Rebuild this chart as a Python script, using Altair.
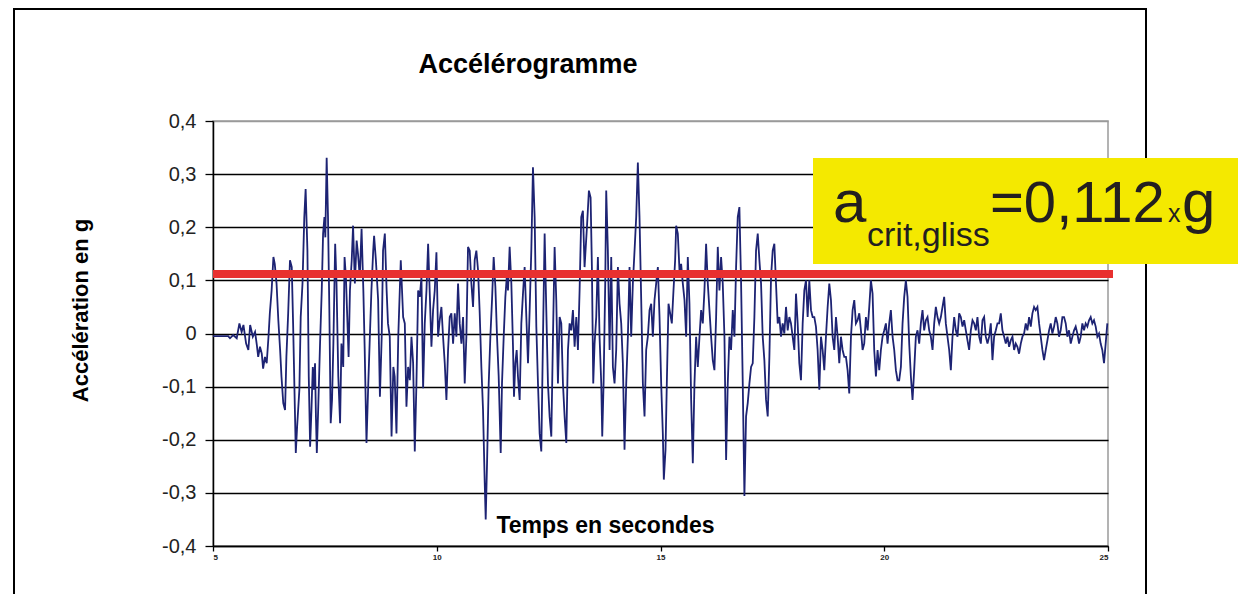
import altair as alt
import pandas as pd

# Accelerogram samples (time in s, acceleration in g), split by time window
SEG_1 = [
    (5.00, -0.005), (5.34, -0.005), (5.38, -0.009), (5.45, -0.003), (5.53, -0.009),
    (5.59, 0.019), (5.64, 0.003), (5.68, 0.016), (5.74, -0.019), (5.79, -0.031),
    (5.83, 0.016), (5.89, -0.006), (5.94, 0.003), (5.98, -0.022), (6.01, -0.044),
    (6.05, -0.025), (6.09, -0.038), (6.12, -0.066), (6.16, -0.044), (6.20, -0.056),
    (6.24, -0.006), (6.27, 0.038), (6.31, 0.081), (6.35, 0.144), (6.38, 0.131),
    (6.42, 0.094), (6.46, 0.025), (6.50, -0.031), (6.53, -0.081), (6.57, -0.131),
    (6.61, -0.144), (6.64, -0.044), (6.68, 0.038), (6.72, 0.138), (6.76, 0.125),
    (6.79, 0.019), (6.83, -0.144), (6.85, -0.225), (6.88, -0.175), (6.93, -0.106),
    (6.96, 0.031), (7.00, 0.094), (7.04, 0.219), (7.07, 0.272), (7.11, 0.156),
    (7.14, -0.081), (7.17, -0.213), (7.20, -0.144), (7.23, -0.063), (7.25, -0.106),
    (7.28, -0.056), (7.30, -0.156), (7.32, -0.225), (7.35, -0.144), (7.39, -0.025),
    (7.43, 0.081), (7.46, 0.188), (7.49, 0.219), (7.51, 0.181), (7.54, 0.331),
    (7.57, 0.219), (7.60, 0.044), (7.63, -0.169), (7.66, -0.125), (7.69, -0.019),
    (7.73, 0.169), (7.76, 0.094), (7.80, -0.081), (7.84, -0.169), (7.87, -0.019),
    (7.91, -0.063), (7.94, 0.144), (7.97, 0.106), (8.00, 0.031), (8.03, -0.044),
    (8.06, 0.081), (8.10, 0.138), (8.13, 0.203), (8.17, 0.094), (8.21, 0.175),
    (8.24, 0.150), (8.28, 0.106), (8.32, 0.197), (8.36, 0.081), (8.39, -0.031),
    (8.43, -0.206), (8.47, -0.094), (8.50, -0.019), (8.54, 0.081), (8.58, 0.156),
    (8.60, 0.184), (8.64, 0.138), (8.69, 0.063), (8.73, -0.119), (8.77, -0.006),
    (8.80, 0.156), (8.84, 0.188), (8.88, 0.081), (8.91, 0.019), (8.95, -0.006),
    (8.99, -0.194), (9.03, -0.063), (9.06, -0.081), (9.10, -0.188), (9.14, -0.006),
]

SEG_2 = [
    (9.196, 0.138), (9.249, 0.031), (9.286, 0.019), (9.323, -0.138), (9.360, -0.063),
    (9.398, -0.088), (9.435, -0.006), (9.472, -0.056), (9.509, -0.222), (9.546, -0.094),
    (9.584, 0.081), (9.621, 0.069), (9.658, 0.106), (9.695, -0.103), (9.732, 0.019),
    (9.770, 0.081), (9.807, 0.169), (9.844, 0.075), (9.881, -0.025), (9.918, 0.044),
    (9.955, 0.081), (9.993, 0.153), (10.030, -0.006), (10.067, 0.025), (10.104, 0.050),
    (10.141, -0.006), (10.179, -0.056), (10.216, -0.125), (10.253, -0.031), (10.290, 0.031),
    (10.327, 0.038), (10.365, -0.019), (10.402, 0.038), (10.439, -0.006), (10.476, 0.094),
    (10.513, 0.019), (10.551, -0.019), (10.588, 0.031), (10.625, -0.094), (10.662, -0.006),
    (10.699, 0.163), (10.737, 0.156), (10.774, 0.094), (10.811, 0.050), (10.848, 0.138),
    (10.885, 0.156), (10.923, 0.119), (10.960, 0.038), (10.997, -0.063), (11.034, -0.144),
    (11.072, -0.281), (11.094, -0.350), (11.124, -0.244), (11.161, -0.094), (11.198, -0.006),
    (11.235, 0.063), (11.272, 0.144), (11.310, 0.088), (11.347, -0.006), (11.384, -0.081),
    (11.429, -0.225), (11.458, -0.094), (11.496, -0.006), (11.533, 0.069), (11.570, 0.113),
    (11.592, 0.081), (11.629, 0.163), (11.667, 0.094), (11.704, -0.025), (11.726, -0.119),
    (11.756, -0.056), (11.786, -0.031), (11.815, -0.081), (11.853, -0.125), (11.890, 0.019),
    (11.927, 0.075), (11.964, 0.125), (12.002, 0.031), (12.039, -0.056), (12.076, 0.044),
    (12.113, 0.156), (12.150, 0.313), (12.188, 0.219), (12.225, 0.013), (12.262, -0.094),
    (12.299, -0.188), (12.336, -0.222), (12.374, -0.006), (12.411, 0.188), (12.448, 0.044),
    (12.485, -0.094), (12.522, -0.156), (12.560, -0.194), (12.597, -0.006), (12.634, 0.163),
    (12.671, 0.063), (12.708, -0.094), (12.746, 0.031), (12.783, 0.019), (12.820, -0.094),
    (12.857, -0.156), (12.895, -0.206), (12.932, -0.031), (12.969, 0.019), (13.006, 0.006),
    (13.043, 0.044), (13.081, -0.025), (13.118, 0.031), (13.155, -0.031), (13.192, 0.081),
    (13.229, 0.219), (13.266, 0.231), (13.303, 0.125),
]

SEG_3 = [
    (13.356, 0.200), (13.400, 0.269), (13.438, 0.256), (13.467, 0.125), (13.497, -0.094),
    (13.527, -0.019), (13.564, 0.031), (13.601, 0.144), (13.638, -0.006), (13.676, -0.094),
    (13.698, -0.194), (13.728, -0.094), (13.765, 0.094), (13.787, 0.269), (13.824, 0.156),
    (13.862, -0.031), (13.899, 0.144), (13.936, -0.063), (13.973, -0.094), (14.010, -0.031),
    (14.048, 0.125), (14.085, 0.056), (14.122, 0.019), (14.159, -0.056), (14.196, -0.219),
    (14.234, -0.094), (14.271, -0.006), (14.308, 0.125), (14.345, -0.006), (14.382, 0.094),
    (14.420, 0.156), (14.457, 0.219), (14.494, 0.322), (14.531, 0.219), (14.569, 0.063),
    (14.606, -0.094), (14.643, -0.156), (14.680, -0.031), (14.717, -0.006), (14.755, 0.044),
    (14.792, 0.056), (14.829, -0.006), (14.866, 0.063), (14.903, 0.094), (14.941, 0.125),
    (14.978, 0.031), (15.015, -0.094), (15.052, -0.188), (15.074, -0.275), (15.112, -0.219),
    (15.141, -0.094), (15.179, 0.056), (15.216, 0.038), (15.253, 0.019), (15.290, 0.081),
    (15.327, 0.138), (15.350, 0.203), (15.387, 0.188), (15.424, 0.119), (15.461, 0.131),
    (15.499, 0.094), (15.536, 0.063), (15.573, -0.006), (15.610, 0.144), (15.647, 0.056),
    (15.685, -0.125), (15.722, -0.244), (15.759, -0.094), (15.796, -0.006), (15.833, -0.063),
    (15.871, -0.006), (15.908, 0.044), (15.945, 0.019), (15.982, 0.081), (16.019, 0.169),
    (16.057, 0.094), (16.094, 0.044), (16.131, -0.006), (16.168, -0.050), (16.205, -0.069),
    (16.243, 0.031), (16.280, 0.163), (16.317, 0.081), (16.354, 0.144), (16.391, 0.094),
    (16.429, -0.006), (16.466, -0.238), (16.503, -0.094), (16.540, -0.006), (16.577, -0.031),
    (16.615, 0.044), (16.652, -0.006), (16.689, 0.125), (16.726, 0.219), (16.763, 0.238),
    (16.801, 0.094), (16.838, -0.094), (16.875, -0.306), (16.912, -0.156), (16.949, -0.131),
    (16.987, -0.094), (17.024, -0.063), (17.061, -0.056), (17.098, 0.031), (17.135, 0.156),
    (17.173, 0.188), (17.210, 0.138), (17.247, 0.094), (17.284, -0.006), (17.321, -0.050),
    (17.359, -0.125), (17.396, -0.156),
]

SEG_4 = [
    (17.433, -0.044), (17.470, 0.106), (17.507, 0.156), (17.544, 0.169), (17.581, 0.094),
    (17.619, 0.019), (17.656, 0.031), (17.693, -0.006), (17.730, 0.019), (17.767, 0.000),
    (17.805, 0.050), (17.842, 0.006), (17.879, 0.031), (17.916, 0.019), (17.953, -0.006),
    (17.991, -0.031), (18.028, 0.075), (18.065, 0.019), (18.102, -0.056), (18.139, -0.088),
    (18.177, 0.019), (18.214, 0.081), (18.251, 0.100), (18.288, 0.031), (18.325, 0.100),
    (18.363, 0.044), (18.400, 0.031), (18.437, 0.031), (18.474, 0.013), (18.511, -0.031),
    (18.549, -0.106), (18.586, -0.006), (18.623, -0.031), (18.660, -0.069), (18.697, -0.006),
    (18.735, 0.050), (18.772, 0.094), (18.809, 0.063), (18.846, -0.006), (18.883, -0.031),
    (18.921, 0.031), (18.958, -0.006), (18.995, -0.056), (19.032, -0.006), (19.069, -0.031),
    (19.107, -0.044), (19.144, -0.044), (19.181, -0.069), (19.218, -0.113), (19.256, -0.006),
    (19.293, 0.044), (19.330, 0.063), (19.367, 0.019), (19.404, 0.025), (19.442, 0.038),
    (19.479, 0.006), (19.516, -0.031), (19.553, -0.019), (19.590, 0.031), (19.628, 0.006),
    (19.665, 0.050), (19.702, 0.100), (19.739, 0.075), (19.776, -0.031), (19.814, -0.081),
    (19.851, -0.031), (19.888, -0.069), (19.925, -0.031), (19.962, -0.006), (20.000, 0.006),
    (20.037, 0.019), (20.074, -0.019), (20.111, 0.019), (20.148, 0.044), (20.186, -0.006),
    (20.223, -0.031), (20.260, -0.069), (20.297, -0.088), (20.334, -0.088), (20.372, -0.063),
    (20.409, 0.019), (20.446, 0.069), (20.483, 0.100), (20.520, 0.069), (20.558, -0.019),
    (20.595, -0.081), (20.632, -0.125), (20.669, -0.069), (20.706, -0.006), (20.744, 0.006),
    (20.781, -0.019), (20.818, 0.019), (20.855, 0.044), (20.892, 0.006), (20.930, 0.025),
    (20.967, 0.031), (21.004, 0.006), (21.041, -0.006), (21.079, -0.031), (21.116, 0.019),
    (21.153, 0.050), (21.190, 0.031), (21.227, 0.019), (21.265, 0.031), (21.302, 0.050),
    (21.339, 0.069), (21.376, 0.019), (21.413, -0.006), (21.451, -0.031), (21.488, -0.069),
    (21.525, -0.006),
]

SEG_5 = [
    (21.563, 0.031), (21.600, 0.006), (21.637, -0.006), (21.674, 0.038), (21.711, 0.031),
    (21.749, 0.013), (21.786, 0.025), (21.823, 0.006), (21.860, -0.013), (21.897, -0.031),
    (21.935, 0.006), (21.972, 0.025), (22.009, 0.019), (22.046, 0.006), (22.083, 0.031),
    (22.121, -0.006), (22.158, -0.019), (22.195, 0.025), (22.232, 0.031), (22.269, -0.006),
    (22.307, -0.019), (22.344, -0.006), (22.381, 0.019), (22.418, -0.050), (22.455, -0.006),
    (22.493, 0.006), (22.530, 0.019), (22.567, 0.019), (22.604, 0.038), (22.641, 0.006),
    (22.679, -0.006), (22.716, -0.019), (22.753, -0.006), (22.790, -0.025), (22.827, -0.013),
    (22.865, -0.006), (22.902, -0.031), (22.939, -0.019), (22.976, -0.025), (23.013, -0.038),
    (23.051, -0.019), (23.088, -0.006), (23.125, 0.000), (23.162, 0.019), (23.199, 0.006),
    (23.237, 0.031), (23.274, 0.013), (23.311, 0.038), (23.348, 0.050), (23.385, 0.044),
    (23.423, 0.050), (23.460, 0.019), (23.497, -0.006), (23.534, -0.031), (23.571, -0.050),
    (23.609, -0.031), (23.646, -0.013), (23.683, 0.006), (23.720, 0.019), (23.757, 0.000),
    (23.795, 0.013), (23.832, 0.031), (23.869, 0.019), (23.906, -0.006), (23.943, 0.006),
    (23.981, 0.031), (24.018, 0.031), (24.055, 0.019), (24.092, -0.006), (24.129, 0.006),
    (24.167, -0.019), (24.204, -0.006), (24.241, 0.006), (24.278, 0.013), (24.315, 0.000),
    (24.353, -0.019), (24.390, -0.006), (24.427, 0.019), (24.464, 0.006), (24.501, 0.019),
    (24.539, 0.013), (24.576, 0.025), (24.613, 0.031), (24.650, 0.019), (24.687, 0.025),
    (24.725, 0.013), (24.762, -0.006), (24.799, 0.000), (24.836, -0.019), (24.873, -0.031),
    (24.911, -0.056), (24.948, -0.019), (24.985, 0.019),
]

X_TICKS = [5, 10, 15, 20, 25]
Y_TICKS = [-0.4, -0.3, -0.2, -0.1, 0.0, 0.1, 0.2, 0.3, 0.4]
A_CRIT = 0.112  # critical sliding acceleration, in g

FONT = "Liberation Sans"
W, H = 895, 425

signal = pd.DataFrame(
    [{"t": t, "a": a} for seg in (SEG_1, SEG_2, SEG_3, SEG_4, SEG_5) for t, a in seg]
)

x_scale = alt.Scale(domain=[X_TICKS[0], X_TICKS[-1]], nice=False, zero=False)
y_scale = alt.Scale(domain=[Y_TICKS[0], Y_TICKS[-1]], nice=False)

comma_label = (
    "abs(datum.value) < 1e-9 ? '0' : "
    "(datum.value < 0 ? '-' : '') + replace(format(abs(datum.value), '.1f'), '.', ',')"
)

# outer border around the whole figure
frame = alt.Chart(pd.DataFrame({"k": [0]})).mark_rect(
    filled=False, stroke="black", strokeWidth=2
).encode(
    x=alt.value(-199), x2=alt.value(933), y=alt.value(-112), y2=alt.value(520)
)

trace = alt.Chart(signal).mark_line(color="#1d2373", strokeWidth=1.8).encode(
    x=alt.X(
        "t:Q",
        scale=x_scale,
        axis=alt.Axis(
            values=X_TICKS,
            grid=False,
            title="Temps en secondes",
            titleFont=FONT,
            titleFontSize=23,
            titleFontWeight="bold",
            titleColor="black",
            titleX=392,
            titleY=-21,
            titleAlign="center",
            titleBaseline="middle",
            labelFont=FONT,
            labelFontSize=8,
            labelFontWeight="bold",
            labelColor="#222",
            labelPadding=2,
            tickSize=5,
            tickColor="black",
            tickWidth=1.3,
            domainColor="black",
            domainWidth=1.5,
        ),
    ),
    y=alt.Y(
        "a:Q",
        scale=y_scale,
        axis=alt.Axis(
            values=Y_TICKS,
            labelExpr=comma_label,
            grid=True,
            gridColor=alt.condition("datum.value > 0.35", alt.value("#9a9a9a"), alt.value("black")),
            gridWidth=1.3,
            gridOpacity=1,
            title="Accélération en g",
            titleFont=FONT,
            titleFontSize=22,
            titleFontWeight="bold",
            titleColor="black",
            titleAngle=270,
            titleX=-133,
            titleY=189,
            titleAlign="center",
            titleBaseline="middle",
            labelFont=FONT,
            labelFontSize=20,
            labelColor="#222",
            labelPadding=9,
            tickSize=8,
            tickColor="black",
            tickWidth=1.3,
            domainColor="black",
            domainWidth=1.5,
        ),
    ),
)

threshold = alt.Chart(pd.DataFrame({"k": [0]})).mark_rule(
    color="#e8302f", strokeWidth=8
).encode(
    y=alt.Y(datum=A_CRIT, scale=y_scale),
    x=alt.value(0),
    x2=alt.value(W + 5),
)

title = alt.Chart(pd.DataFrame({"s": ["Accélérogramme"]})).mark_text(
    font=FONT, fontSize=27, fontWeight="bold", color="black",
    align="center", baseline="middle",
).encode(text="s:N", x=alt.value(315), y=alt.value(-56))

# annotation box with the critical acceleration
box = alt.Chart(pd.DataFrame({"k": [0]})).mark_rect(color="#f4e900").encode(
    x=alt.value(600), x2=alt.value(1040), y=alt.value(37), y2=alt.value(143)
)

crit_value = "=" + f"{A_CRIT:.3f}".replace(".", ",")
box_parts = [
    ("a", 60, 620, 101),
    ("crit,gliss", 34, 654, 125),
    (crit_value, 58, 777, 101),
    ("x", 25, 955, 101),
    ("g", 60, 969, 101),
]


def box_text(label, size, px, py):
    return alt.Chart(pd.DataFrame({"s": [label]})).mark_text(
        font=FONT, fontSize=size, color="#231f20", align="left", baseline="alphabetic"
    ).encode(text="s:N", x=alt.value(px), y=alt.value(py))


layers = [frame, trace, threshold, title, box] + [box_text(*p) for p in box_parts]

chart = alt.layer(*layers).properties(
    width=W,
    height=H,
    padding={"left": 213, "top": 121, "right": 130, "bottom": 48},
    autosize="none",
    background="white",
).configure_view(stroke="#9a9a9a", strokeWidth=1.5)

chart.save("out.html", embed_options={"renderer": "svg", "actions": False})
